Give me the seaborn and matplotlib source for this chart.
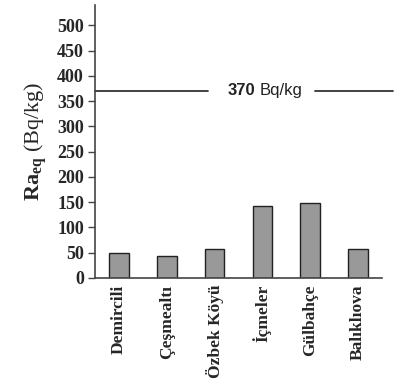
import matplotlib
matplotlib.use("Agg")
import matplotlib.pyplot as plt
import matplotlib.transforms as mtrans
import seaborn as sns
import pandas as pd

categories = ["Demircili", "Çeşmealtı", "Özbek Köyü", "İçmeler", "Gülbahçe", "Balıklıova"]
values = [50, 44, 57, 142, 148, 57]
yticks = [0, 50, 100, 150, 200, 250, 300, 350, 400, 450, 500]
limit_value = 370

sns.set_style("white")
plt.rcParams["mathtext.fontset"] = "custom"
plt.rcParams["mathtext.rm"] = "Liberation Serif"
plt.rcParams["mathtext.bf"] = "Liberation Serif:bold"

df = pd.DataFrame({"site": categories, "val": values})

fig = plt.figure(figsize=(4.08, 3.87), dpi=100)
ax = fig.add_axes([0.233, 0.282, 0.703, 0.705])
sns.barplot(data=df, x="site", y="val", ax=ax, color="#999999", width=0.41,
            edgecolor="#222222", linewidth=1.0, saturation=1)

ax.set_xlim(-0.5, len(categories) - 0.5)
ax.set_ylim(0, 540)
ax.set_yticks(yticks)
ax.set_yticklabels([str(t) for t in yticks], fontfamily="Liberation Serif",
                   fontweight="bold", fontsize=13)
ax.set_xticks(range(len(categories)))
ax.set_xticklabels(categories, rotation=90, fontfamily="Liberation Serif",
                   fontweight="bold", fontsize=12.5)
ax.set_xticks([i - 0.5 for i in range(len(categories) + 1)], minor=True)
ax.tick_params(axis="x", which="major", length=0, pad=5)
ax.tick_params(axis="x", which="minor", length=5, width=1, color="#444444", direction="out")
ax.tick_params(axis="y", length=5, width=1, color="#444444", direction="out", pad=3, left=True)

for s in ["top", "right"]:
    ax.spines[s].set_visible(False)
for s in ["left", "bottom"]:
    ax.spines[s].set_color("#444444")
    ax.spines[s].set_linewidth(1.2)

ax.set_xlabel("")
ax.set_ylabel(r"$\mathbf{Ra_{eq}}$ (Bq/kg)", fontfamily="Liberation Serif", fontsize=16, labelpad=6)

trans = mtrans.blended_transform_factory(ax.transAxes, ax.transData)
ax.plot([0, 0.394], [limit_value, limit_value], color="#333333", lw=1.3, transform=trans, clip_on=False)
ax.plot([0.767, 1.038], [limit_value, limit_value], color="#333333", lw=1.3, transform=trans, clip_on=False)
ax.text(0.557, limit_value, str(limit_value), transform=trans, ha="right", va="center",
        fontfamily="Liberation Sans", fontweight="bold", fontsize=12, color="#222222")
ax.text(0.575, limit_value, "Bq/kg", transform=trans, ha="left", va="center",
        fontfamily="Liberation Sans", fontsize=12, color="#222222")

fig.savefig("out.png", dpi=100)
